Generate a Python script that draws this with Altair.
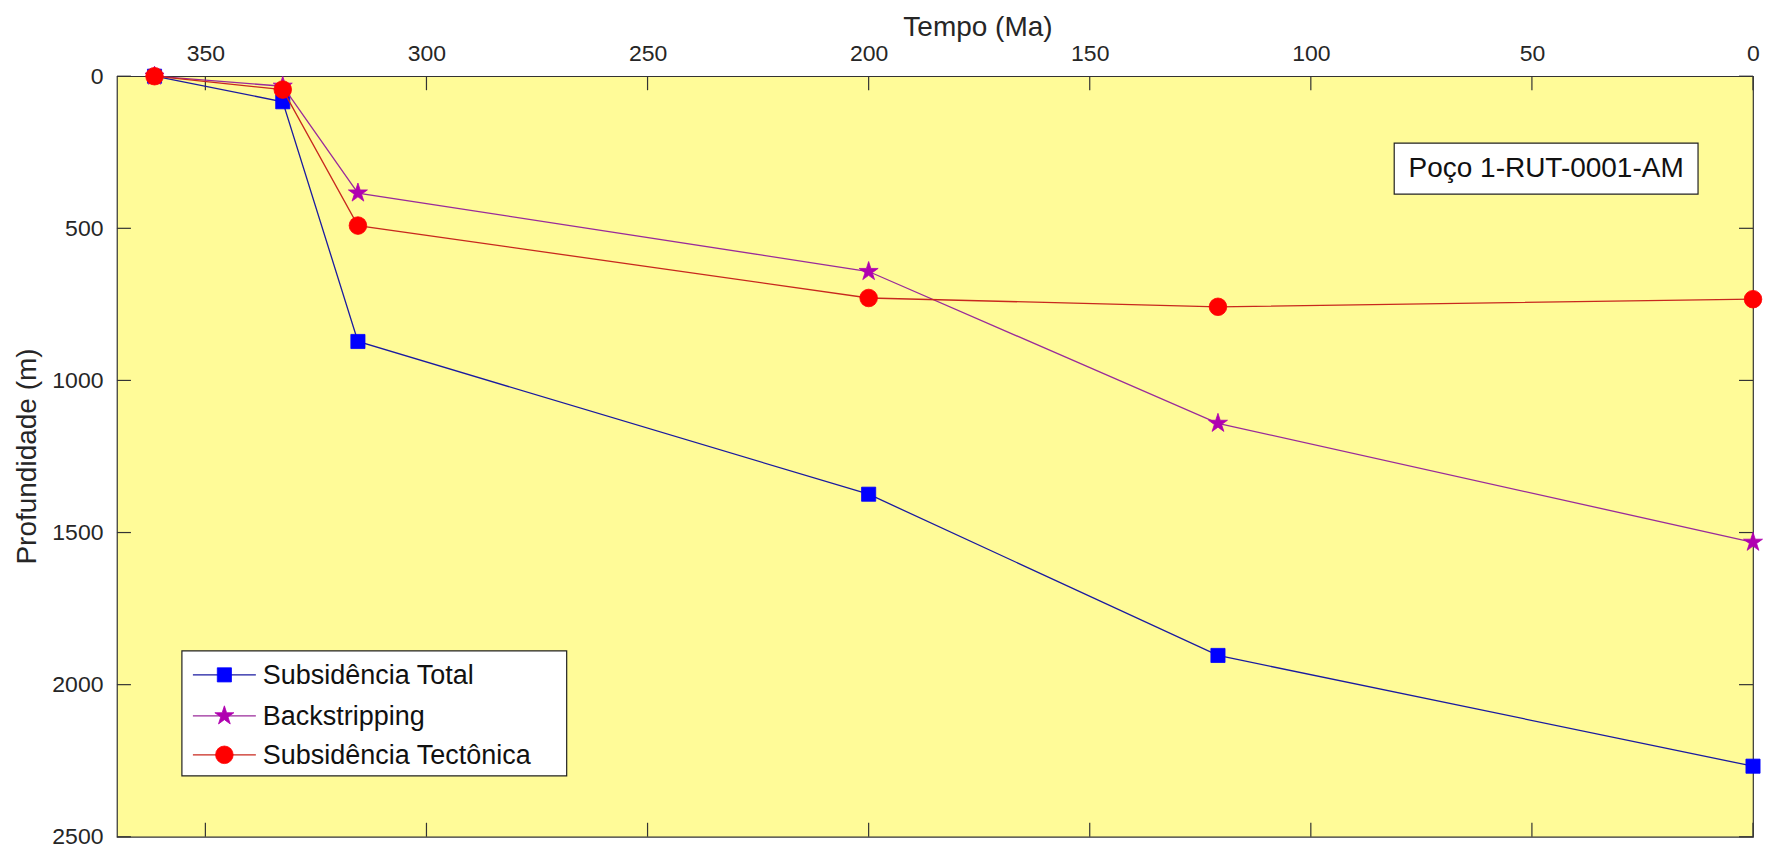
import altair as alt
import pandas as pd

# ---- data ----
tempo_ma = [361.5, 332.5, 315.5, 200, 121, 0]
subs_total = [0, 84, 872, 1374, 1904, 2268]
backstripping = [0, 33, 384, 642, 1141, 1532]
subs_tectonica = [0, 44, 491, 729, 758, 733]

series_names = ["Subsidência Total", "Backstripping", "Subsidência Tectônica"]
series_values = [subs_total, backstripping, subs_tectonica]

x_ticks = [0, 50, 100, 150, 200, 250, 300, 350]
y_ticks = [0, 500, 1000, 1500, 2000, 2500]
x_domain = [0, 370]
y_domain = [0, 2500]
annotation_text = "Poço 1-RUT-0001-AM"

# ---- styles ----
W, H = 1637, 761
FONT = "Liberation Sans"
TXT = "#262626"
BG = "#FFFB98"
STAR = ("M0,-1L0.2245,-0.309L0.951,-0.309L0.363,0.118L0.588,0.809L0,0.382"
        "L-0.588,0.809L-0.363,0.118L-0.951,-0.309L-0.2245,-0.309Z")
line_colors = ["#1a1aa0", "#9a2a9a", "#c8281e"]
marker_colors = ["#0000FF", "#B000B0", "#FF0000"]
marker_shapes = ["square", STAR, "circle"]
marker_sizes = [200, 400, 310]

x_scale = alt.Scale(domain=x_domain, reverse=True, nice=False, zero=False)
y_scale = alt.Scale(domain=y_domain, reverse=True, nice=False)

x_axis = alt.Axis(
    orient="top", values=x_ticks, format="d", tickSize=0, domain=False, grid=False,
    labelFontSize=23, labelFont=FONT, labelColor=TXT, labelPadding=11, labelFlush=False,
    title="Tempo (Ma)", titleFont=FONT, titleFontSize=28, titleFontWeight="normal",
    titleColor=TXT, titleX=861, titleY=-49, titleBaseline="middle", titleAlign="center",
)
y_axis = alt.Axis(
    orient="left", values=y_ticks, format="d", tickSize=0, domain=False, grid=False,
    labelFontSize=23, labelFont=FONT, labelColor=TXT, labelPadding=14, labelFlush=False,
    title="Profundidade (m)", titleFont=FONT, titleFontSize=28, titleFontWeight="normal",
    titleColor=TXT, titleX=-89, titleY=380, titleBaseline="middle", titleAlign="center",
)


def X(field):
    return alt.X(field, scale=x_scale, axis=x_axis)


def Y(field):
    return alt.Y(field, scale=y_scale, axis=y_axis)


rows = []
for name, vals in zip(series_names, series_values):
    for t, v in zip(tempo_ma, vals):
        rows.append({"serie": name, "tempo": t, "prof": v})
df = pd.DataFrame(rows)

layers = []
for i, name in enumerate(series_names):
    sub = df[df["serie"] == name]
    line = alt.Chart(sub).mark_line(color=line_colors[i], strokeWidth=1.3).encode(
        x=X("tempo:Q"), y=Y("prof:Q"))
    pts = alt.Chart(sub).mark_point(
        shape=marker_shapes[i], filled=True, color=marker_colors[i], size=marker_sizes[i],
        opacity=1, stroke=marker_colors[i], strokeWidth=0.8,
    ).encode(x=X("tempo:Q"), y=Y("prof:Q"))
    layers += [line, pts]

# inward ticks (box style like MATLAB)
TL = 14
xt = pd.DataFrame({"tempo": x_ticks})
yt = pd.DataFrame({"prof": y_ticks})
tick_layers = [
    alt.Chart(xt).mark_rule(color="#333", strokeWidth=1.2).encode(
        x=X("tempo:Q"), y=alt.value(0), y2=alt.value(TL)),
    alt.Chart(xt).mark_rule(color="#333", strokeWidth=1.2).encode(
        x=X("tempo:Q"), y=alt.value(H - TL), y2=alt.value(H)),
    alt.Chart(yt).mark_rule(color="#333", strokeWidth=1.2).encode(
        y=Y("prof:Q"), x=alt.value(0), x2=alt.value(TL)),
    alt.Chart(yt).mark_rule(color="#333", strokeWidth=1.2).encode(
        y=Y("prof:Q"), x=alt.value(W - TL), x2=alt.value(W)),
]

one = pd.DataFrame({"k": [0]})

# annotation box
ann = [
    alt.Chart(one).mark_rect(fill="white", stroke="#222", strokeWidth=1.2).encode(
        x=alt.value(1278), x2=alt.value(1582), y=alt.value(67), y2=alt.value(118)),
    alt.Chart(one).mark_text(text=annotation_text, font=FONT, fontSize=28, color="#111",
                             align="center", baseline="middle").encode(
        x=alt.value(1430), y=alt.value(93)),
]

# custom legend
leg = [
    alt.Chart(one).mark_rect(fill="white", stroke="#222", strokeWidth=1.2).encode(
        x=alt.value(65), x2=alt.value(450), y=alt.value(575), y2=alt.value(700)),
]
row_y = [599, 640, 679]
for i, name in enumerate(series_names):
    leg.append(alt.Chart(one).mark_rule(color=line_colors[i], strokeWidth=1.3).encode(
        x=alt.value(76), x2=alt.value(139), y=alt.value(row_y[i])))
    leg.append(alt.Chart(one).mark_point(
        shape=marker_shapes[i], filled=True, color=marker_colors[i], size=marker_sizes[i],
        opacity=1, stroke=marker_colors[i], strokeWidth=0.8).encode(
        x=alt.value(107.5), y=alt.value(row_y[i])))
    leg.append(alt.Chart(one).mark_text(text=name, font=FONT, fontSize=27, color="#111",
                                        align="left", baseline="middle").encode(
        x=alt.value(146), y=alt.value(row_y[i] + 1)))

chart = alt.layer(*tick_layers, *layers, *ann, *leg).properties(
    width=W, height=H,
    autosize=alt.AutoSizeParams(type="none"),
    padding={"left": 109, "top": 68, "right": 10, "bottom": 18},
    background="white",
).configure_view(fill=BG, stroke="#333", strokeWidth=1.2)

chart.save("out.html", embed_options={"renderer": "svg", "actions": False})
